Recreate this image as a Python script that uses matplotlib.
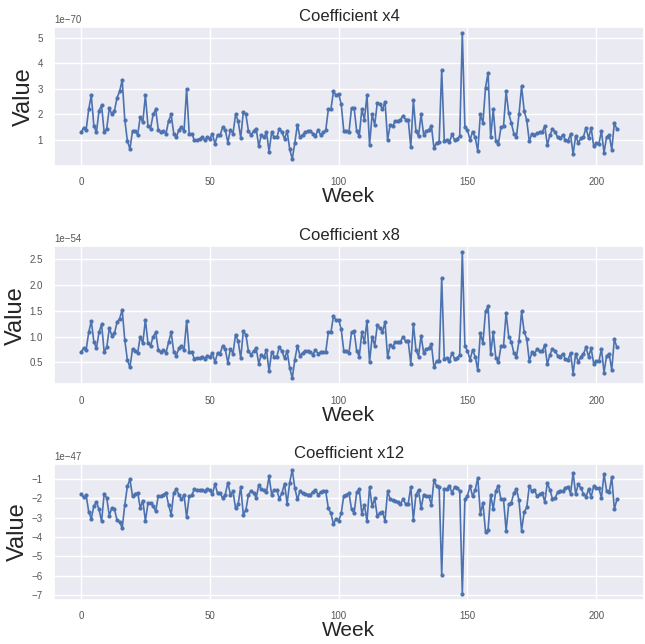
import matplotlib
matplotlib.use("Agg")
import matplotlib.pyplot as plt
import seaborn as sns
import numpy as np
from matplotlib.ticker import MultipleLocator

sns.set_theme(style="darkgrid")
plt.rcParams['font.family'] = ['Liberation Sans', 'DejaVu Sans']

titles = ["Coefficient x4", "Coefficient x8", "Coefficient x12"]
scales = [1e-70, 1e-54, 1e-47]
ytick_steps = [1.0, 0.5, 1.0]

x4 = [1.3, 1.47, 1.4, 2.2, 2.75, 1.55, 1.3, 2.15, 2.35, 1.3,
      1.45, 2.25, 2.0, 2.15, 2.65, 2.9, 3.35, 1.8, 0.97, 0.65,
      1.35, 1.35, 1.2, 1.9, 1.7, 2.75, 1.55, 1.45, 2.0, 2.2,
      1.4, 1.3, 1.35, 1.25, 1.75, 2.0, 1.25, 1.1, 1.4, 1.5,
      1.35, 3.0, 1.25, 1.25, 1.0, 1.0, 1.05, 1.1, 1.0, 1.1,
      1.05, 1.25, 0.85, 1.2, 1.2, 1.5, 1.4, 0.9, 1.4, 1.25,
      2.0, 1.75, 1.08, 2.1, 2.0, 1.35, 1.2, 1.35, 1.45, 0.75,
      1.2, 1.1, 1.3, 0.55, 1.3, 1.1, 1.1, 1.45, 1.3, 1.05,
      1.35, 0.65, 0.25, 0.9, 1.6, 1.1, 1.2, 1.3, 1.35, 1.35,
      1.25, 1.15, 1.4, 1.2, 1.3, 1.38, 2.2, 2.2, 2.9, 2.75,
      2.8, 2.4, 1.35, 1.35, 1.3, 2.25, 2.25, 1.35, 1.15, 2.2,
      1.8, 2.75, 0.8, 2.0, 1.6, 2.45, 2.4, 2.2, 2.5, 1.0,
      1.6, 1.55, 1.75, 1.75, 1.8, 1.95, 1.8, 1.8, 0.72, 2.55,
      1.35, 1.15, 2.0, 1.2, 1.35, 1.4, 1.55, 0.68, 0.9, 0.92,
      3.75, 0.97, 1.0, 0.92, 1.22, 1.0, 1.05, 1.15, 5.17, 1.5,
      1.38, 1.0, 1.33, 1.1, 0.57, 2.0, 1.67, 3.05, 3.63, 1.1,
      2.2, 0.97, 0.85, 1.5, 1.55, 2.9, 2.05, 1.67, 1.25, 1.12,
      2.0, 3.1, 2.15, 1.77, 0.95, 1.25, 1.2, 1.27, 1.3, 1.3,
      1.55, 0.8, 1.2, 1.42, 1.33, 1.1, 1.06, 1.2, 1.0, 0.97,
      1.23, 0.45, 1.16, 0.89, 1.06, 1.12, 1.48, 1.07, 1.48, 0.75,
      0.87, 0.85, 1.35, 0.5, 1.12, 1.2, 0.62, 1.67, 1.42]

x8 = [0.70, 0.77, 0.74, 1.08, 1.3, 0.9, 0.77, 1.08, 1.24, 0.7,
      0.79, 1.16, 1.02, 1.06, 1.28, 1.35, 1.52, 0.93, 0.55, 0.4,
      0.76, 0.72, 0.68, 1.0, 0.87, 1.33, 0.87, 0.82, 1.0, 1.08,
      0.74, 0.7, 0.74, 0.68, 0.89, 1.09, 0.7, 0.63, 0.77, 0.82,
      0.74, 1.3, 0.7, 0.7, 0.57, 0.58, 0.58, 0.61, 0.57, 0.63,
      0.6, 0.68, 0.5, 0.68, 0.67, 0.82, 0.75, 0.49, 0.76, 0.67,
      1.04, 0.91, 0.58, 1.1, 1.04, 0.71, 0.65, 0.72, 0.77, 0.47,
      0.65, 0.6, 0.74, 0.32, 0.7, 0.61, 0.61, 0.8, 0.71, 0.58,
      0.72, 0.39, 0.19, 0.55, 0.82, 0.63, 0.68, 0.72, 0.72, 0.7,
      0.65, 0.74, 0.67, 0.7, 0.7, 0.7, 1.08, 1.08, 1.4, 1.32,
      1.33, 1.14, 0.72, 0.72, 0.68, 1.08, 1.11, 0.72, 0.61, 1.08,
      0.89, 1.3, 0.5, 1.0, 0.82, 1.22, 1.17, 1.09, 1.28, 0.6,
      0.84, 0.8, 0.9, 0.89, 0.9, 1.0, 0.91, 0.91, 0.47, 1.25,
      0.74, 0.61, 1.02, 0.68, 0.76, 0.77, 0.85, 0.4, 0.52, 0.53,
      2.14, 0.57, 0.58, 0.52, 0.68, 0.57, 0.58, 0.65, 2.64, 0.82,
      0.72, 0.55, 0.74, 0.61, 0.34, 1.07, 0.87, 1.49, 1.59, 0.66,
      1.08, 0.58, 0.5, 0.81, 0.82, 1.46, 1.0, 0.9, 0.68, 0.6,
      0.91, 1.49, 1.09, 0.96, 0.52, 0.69, 0.67, 0.75, 0.72, 0.71,
      0.84, 0.46, 0.65, 0.76, 0.72, 0.63, 0.61, 0.67, 0.56, 0.55,
      0.68, 0.28, 0.67, 0.5, 0.61, 0.66, 0.79, 0.61, 0.77, 0.47,
      0.53, 0.52, 0.76, 0.3, 0.63, 0.66, 0.35, 0.95, 0.79]

x12 = [-1.77, -1.96, -1.85, -2.7, -3.06, -2.4, -2.2, -2.57, -3.19, -1.77,
       -2.0, -2.9, -2.5, -2.57, -3.14, -3.22, -3.55, -2.35, -1.4, -1.03,
       -1.9, -1.8, -1.72, -2.5, -2.13, -3.17, -2.27, -2.24, -2.4, -2.68,
       -1.88, -1.9, -1.82, -1.72, -2.35, -2.85, -1.72, -1.55, -1.82, -2.06,
       -1.85, -2.98, -1.9, -1.85, -1.55, -1.58, -1.6, -1.58, -1.63, -1.55,
       -1.6, -1.8, -1.28, -1.75, -1.75, -2.0, -1.82, -1.2, -1.82, -1.66,
       -2.53, -2.32, -1.41, -2.85, -2.62, -1.82, -1.63, -1.74, -1.99, -1.33,
       -1.54, -1.58, -1.69, -0.88, -1.82, -1.58, -1.58, -2.04, -1.74, -1.25,
       -2.29, -1.2, -0.55, -1.49, -2.07, -1.63, -1.74, -1.79, -1.82, -1.82,
       -1.69, -1.58, -1.82, -1.69, -1.66, -1.66, -2.52, -2.78, -3.34, -3.06,
       -3.19, -2.78, -1.87, -1.82, -1.74, -2.57, -2.78, -1.71, -1.54, -2.81,
       -2.35, -3.19, -1.44, -2.43, -2.02, -2.94, -2.76, -2.7, -3.17, -1.66,
       -2.04, -2.12, -2.15, -2.19, -2.29, -2.07, -2.29, -2.29, -1.41, -3.11,
       -1.82, -1.58, -2.53, -1.82, -1.91, -1.91, -2.35, -1.08, -1.38, -1.41,
       -5.94, -1.53, -1.54, -1.36, -1.74, -1.44, -1.49, -1.63, -6.93, -2.07,
       -1.87, -1.38, -1.91, -1.58, -0.95, -2.81, -2.24, -3.72, -3.64, -1.82,
       -2.57, -1.63, -1.36, -2.07, -2.07, -3.69, -2.32, -2.24, -1.74, -1.53,
       -2.12, -3.67, -2.73, -2.48, -1.38, -1.63, -1.58, -1.91, -1.79, -1.74,
       -2.19, -1.21, -1.58, -2.04, -1.99, -1.71, -1.61, -1.66, -1.46, -1.41,
       -1.77, -0.72, -1.79, -1.28, -1.49, -1.77, -1.94, -1.54, -1.94, -1.38,
       -1.49, -1.49, -1.99, -0.75, -1.63, -1.71, -0.92, -2.57, -2.07]

series = [x4, x8, x12]

fig = plt.figure(figsize=(6.45, 6.44), dpi=100)
boxes = [[0.084, 0.743, 0.914, 0.215],
         [0.084, 0.403, 0.914, 0.215],
         [0.084, 0.068, 0.914, 0.212]]

for box, title, vals, sc, step in zip(boxes, titles, series, scales, ytick_steps):
    ax = fig.add_axes(box)
    weeks = np.arange(len(vals))
    ax.plot(weeks, np.array(vals) * sc, marker='.', markersize=4,
            linewidth=1.2, color='#4c72b0')
    ax.yaxis.set_major_locator(MultipleLocator(step * sc))
    ax.set_title(title, fontsize=12, pad=4)
    ax.set_xlabel("Week", fontsize=15, labelpad=0)
    ax.set_ylabel("Value", fontsize=17, labelpad=2)
    ax.tick_params(axis='both', labelsize=7, colors='#555555', pad=2)
    ax.yaxis.get_offset_text().set_fontsize(7)
    ax.yaxis.get_offset_text().set_color('#555555')

fig.savefig("out.png", dpi=100)
